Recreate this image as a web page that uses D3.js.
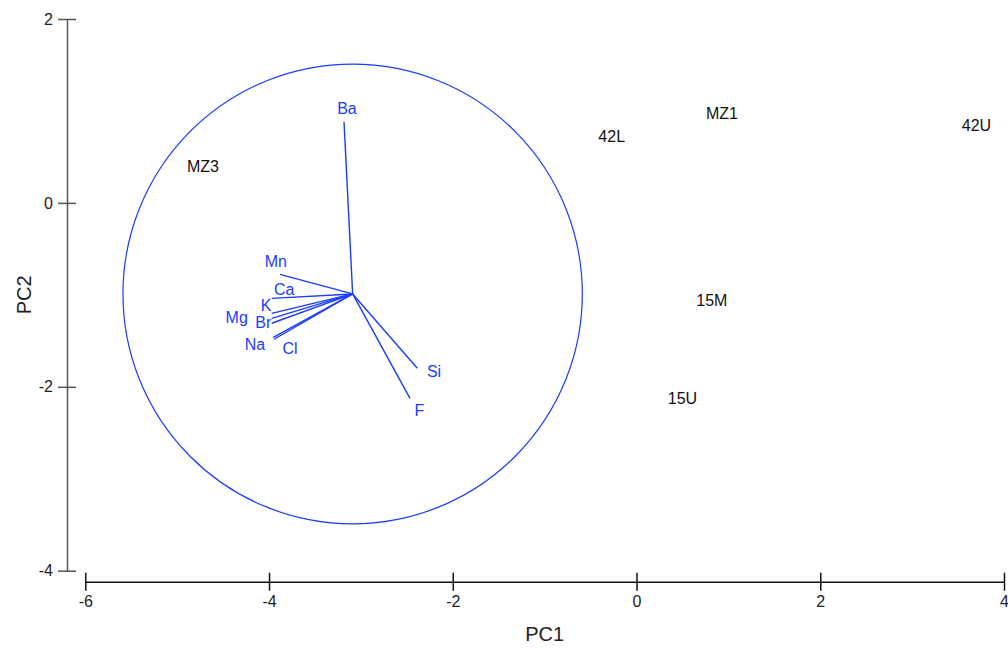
<!DOCTYPE html>
<html>
<head>
  <meta charset="utf-8">
  <title>PCA biplot</title>
  <script type="text/javascript" src="https://cdn.jsdelivr.net/npm/d3@7"></script>
  <style>
    body { margin: 0; background: #fff; }
    svg { display: block; font-family: "Liberation Sans", Arial, sans-serif; }
    .tickLabel { font-size: 16px; fill: #222; }
    .sample { font-size: 16px; fill: #111; }
    .varLabel { font-size: 16px; fill: #1a3cff; }
    .title { font-size: 20px; fill: #222; }
  </style>
</head>
<body>
  <script type="text/javascript">
    var width = 1008;
    var height = 648;

    // samples (scores)
    var sampleNames = ["MZ3", "42L", "MZ1", "42U", "15M", "15U"];
    var sampleX = [-4.72, -0.27, 0.93, 3.70, 0.82, 0.50];
    var sampleY = [0.40, 0.72, 0.97, 0.84, -1.06, -2.13];

    // variables (loading vectors), drawn from the circle centre
    var varNames = ["Ba", "Mn", "Ca", "K", "Mg", "Br", "Na", "Cl", "Si", "F"];
    var varEndX = [-3.184, -3.881, -3.971, -3.971, -3.971, -3.971, -3.954, -3.946, -2.386, -2.466];
    var varEndY = [0.883, -0.777, -1.038, -1.201, -1.255, -1.309, -1.462, -1.483, -1.799, -2.125];
    var varLabelX = [-3.152, -3.927, -3.834, -4.033, -4.352, -4.062, -4.153, -3.772, -2.204, -2.364];
    var varLabelY = [1.032, -0.637, -0.936, -1.110, -1.249, -1.303, -1.535, -1.581, -1.836, -2.252];

    // circle of equilibrium
    var circleCenter = [-3.09, -0.99];
    var circleRadius = 2.5;

    var xTicks = [-6, -4, -2, 0, 2, 4];
    var yTicks = [-4, -2, 0, 2];

    var blue = "#1a3cff";

    var svg = d3.select("body")
      .append("svg")
      .attr("width", width)
      .attr("height", height);

    var xScale = d3.scaleLinear()
      .domain([-6, 4])
      .range([85.3, 1004]);

    var yScale = d3.scaleLinear()
      .domain([-4, 2])
      .range([570.7, 19]);

    // plain hyphen for negatives, like the original
    var fmt = function(d) { return String(d); };

    // axes
    var yAxisX = 67;
    var xAxisY = 581.7;

    var yAxis = d3.axisLeft(yScale)
      .tickValues(yTicks)
      .tickSizeInner(9)
      .tickSizeOuter(0)
      .tickFormat(fmt);

    var gy = svg.append("g")
      .attr("class", "axis yAxis")
      .attr("transform", "translate(" + yAxisX + ",0)")
      .call(yAxis);
    gy.select(".domain").attr("stroke", "#555").attr("stroke-width", 1.5);
    gy.selectAll(".tick line").attr("x1", 9).attr("stroke", "#555").attr("stroke-width", 1.5);
    gy.selectAll(".tick text").attr("class", "tickLabel").attr("fill", null).attr("x", -14);

    var xAxis = d3.axisBottom(xScale)
      .tickValues(xTicks)
      .tickSizeInner(9)
      .tickSizeOuter(0)
      .tickFormat(fmt);

    var gx = svg.append("g")
      .attr("class", "axis xAxis")
      .attr("transform", "translate(0," + xAxisY + ")")
      .call(xAxis);
    gx.select(".domain").attr("stroke", "#111").attr("stroke-width", 1.5);
    gx.selectAll(".tick line").attr("y1", -9).attr("stroke", "#111").attr("stroke-width", 1.5);
    gx.selectAll(".tick text").attr("class", "tickLabel").attr("fill", null).attr("y", 14);

    svg.selectAll(".axis").attr("font-family", null).attr("font-size", null);

    // axis titles
    svg.append("text")
      .attr("class", "title")
      .attr("x", (xScale.range()[0] + xScale.range()[1]) / 2)
      .attr("y", 641)
      .attr("text-anchor", "middle")
      .text("PC1");

    svg.append("text")
      .attr("class", "title")
      .attr("transform", "translate(31," + (yScale.range()[0] + yScale.range()[1]) / 2 + ") rotate(-90)")
      .attr("text-anchor", "middle")
      .text("PC2");

    // circle
    svg.append("ellipse")
      .attr("cx", xScale(circleCenter[0]))
      .attr("cy", yScale(circleCenter[1]))
      .attr("rx", xScale(circleCenter[0] + circleRadius) - xScale(circleCenter[0]))
      .attr("ry", yScale(circleCenter[1]) - yScale(circleCenter[1] + circleRadius))
      .attr("fill", "none")
      .attr("stroke", blue)
      .attr("stroke-width", 1.2);

    // loading vectors
    svg.selectAll(".vec")
      .data(varNames)
      .enter()
      .append("line")
      .attr("class", "vec")
      .attr("x1", xScale(circleCenter[0]))
      .attr("y1", yScale(circleCenter[1]))
      .attr("x2", function(d, i) { return xScale(varEndX[i]); })
      .attr("y2", function(d, i) { return yScale(varEndY[i]); })
      .attr("stroke", blue)
      .attr("stroke-width", 1.4);

    svg.selectAll(".varLabel")
      .data(varNames)
      .enter()
      .append("text")
      .attr("class", "varLabel")
      .attr("x", function(d, i) { return xScale(varLabelX[i]); })
      .attr("y", function(d, i) { return yScale(varLabelY[i]); })
      .attr("dy", "0.35em")
      .attr("text-anchor", "middle")
      .text(function(d) { return d; });

    // sample names
    svg.selectAll(".sample")
      .data(sampleNames)
      .enter()
      .append("text")
      .attr("class", "sample")
      .attr("x", function(d, i) { return xScale(sampleX[i]); })
      .attr("y", function(d, i) { return yScale(sampleY[i]); })
      .attr("dy", "0.35em")
      .attr("text-anchor", "middle")
      .text(function(d) { return d; });
  </script>
</body>
</html>
